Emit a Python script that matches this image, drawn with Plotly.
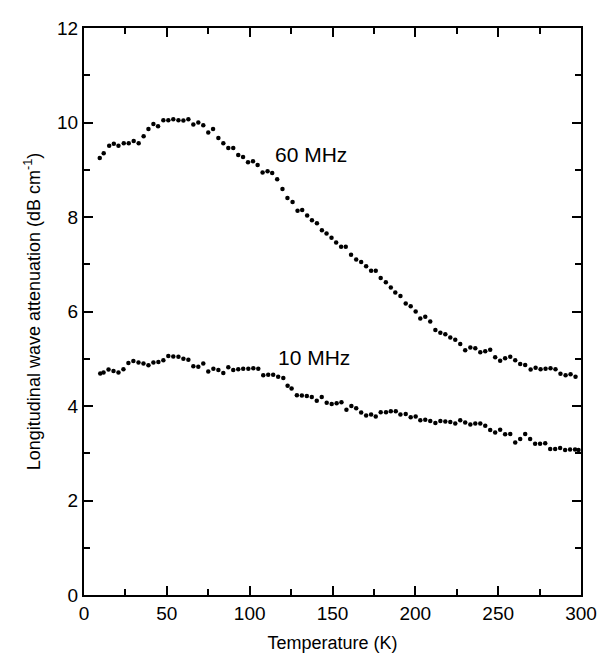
import plotly.graph_objects as go

# 60 MHz series
t60 = [9.5, 11.9, 15.2, 18.0, 20.8, 24.0, 27.0, 30.0, 33.0, 36.0, 38.9, 41.9, 44.7, 47.9,
       50.9, 53.9, 57.0, 60.0, 63.0, 66.0, 69.0, 72.0, 75.0, 77.9, 81.1, 84.1, 87.1, 90.1,
       93.1, 96.0, 99.0, 102.0, 104.8, 107.8, 110.8, 113.6, 116.6, 119.8, 122.8, 125.9,
       128.9, 131.7, 134.7, 137.6, 140.6, 143.6, 146.4, 149.4, 152.2, 155.2, 158.0, 161.2,
       164.3, 167.3, 170.3, 173.3, 176.1, 179.1, 182.2, 185.2, 187.9, 191.0, 194.2, 197.2,
       200.2, 203.0, 206.0, 209.0, 212.1, 215.1, 218.1, 221.1, 224.1, 227.1, 230.1, 233.2,
       236.2, 239.2, 242.2, 245.2, 248.2, 251.2, 254.2, 257.3, 260.3, 263.3, 266.3, 269.6,
       272.6, 275.6, 278.6, 281.6, 284.6, 287.6, 290.7, 293.7, 296.7]
a60 = [9.25, 9.35, 9.51, 9.55, 9.51, 9.56, 9.56, 9.61, 9.56, 9.71, 9.86, 9.97, 9.92, 10.05,
       10.05, 10.07, 10.05, 10.04, 10.07, 9.96, 10.00, 9.94, 9.79, 9.86, 9.67, 9.56, 9.46, 9.46,
       9.31, 9.27, 9.16, 9.18, 9.10, 8.94, 8.97, 8.93, 8.80, 8.59, 8.40, 8.32,
       8.13, 8.15, 8.03, 7.93, 7.87, 7.72, 7.65, 7.56, 7.46, 7.37, 7.37, 7.20,
       7.10, 7.05, 6.96, 6.86, 6.86, 6.71, 6.62, 6.51, 6.40, 6.33, 6.17, 6.11,
       6.00, 5.85, 5.89, 5.79, 5.61, 5.55, 5.52, 5.45, 5.40, 5.31, 5.18, 5.24,
       5.22, 5.14, 5.16, 5.19, 5.03, 4.96, 5.01, 5.04, 4.97, 4.89, 4.87, 4.77,
       4.81, 4.78, 4.79, 4.80, 4.78, 4.68, 4.65, 4.67, 4.62]

# 10 MHz series
t10 = [9.8, 11.8, 14.8, 17.8, 20.8, 23.8, 26.8, 29.8, 32.9, 35.9, 38.9, 41.9, 44.9, 47.9,
       50.9, 53.9, 57.0, 60.0, 63.0, 66.0, 69.0, 72.0, 75.0, 78.1, 81.1, 84.1, 87.1, 90.1,
       93.1, 96.1, 99.2, 102.2, 105.2, 108.2, 111.2, 114.2, 117.2, 120.3, 122.9, 125.3,
       128.5, 131.5, 134.5, 137.5, 140.5, 143.5, 146.5, 149.5, 152.5, 155.4, 158.4, 161.4,
       164.3, 167.3, 170.3, 173.3, 176.1, 179.1, 182.3, 185.2, 188.2, 191.0, 194.2, 197.2,
       200.2, 203.0, 206.0, 209.0, 212.1, 215.1, 218.1, 221.1, 224.1, 227.1, 230.1, 233.2,
       236.2, 239.2, 242.2, 245.2, 248.2, 251.2, 254.2, 257.3, 260.3, 263.3, 266.3, 269.3,
       272.3, 275.3, 278.4, 281.4, 284.4, 287.4, 290.4, 293.4, 296.4, 298.5]
a10 = [4.69, 4.71, 4.77, 4.74, 4.71, 4.78, 4.91, 4.95, 4.92, 4.90, 4.86, 4.92, 4.93, 4.97,
       5.06, 5.05, 5.04, 5.00, 4.98, 4.84, 4.83, 4.90, 4.73, 4.79, 4.76, 4.70, 4.82, 4.76,
       4.78, 4.79, 4.79, 4.80, 4.79, 4.65, 4.66, 4.66, 4.62, 4.59, 4.43, 4.37,
       4.23, 4.22, 4.21, 4.19, 4.11, 4.19, 4.07, 4.04, 4.06, 4.08, 3.92, 4.00,
       3.95, 3.86, 3.80, 3.82, 3.78, 3.87, 3.87, 3.89, 3.89, 3.82, 3.83, 3.76,
       3.78, 3.70, 3.71, 3.68, 3.64, 3.68, 3.67, 3.66, 3.63, 3.70, 3.65, 3.61,
       3.63, 3.63, 3.58, 3.49, 3.44, 3.50, 3.40, 3.41, 3.23, 3.30, 3.41, 3.30,
       3.20, 3.20, 3.21, 3.09, 3.09, 3.11, 3.07, 3.08, 3.08, 3.07]

labels = ["60 MHz", "10 MHz"]
label_pos = [(114.2, 9.32), (116.0, 5.02)]

FONT = "Liberation Sans, Arial, sans-serif"

fig = go.Figure()
for t, a in [(t60, a60), (t10, a10)]:
    fig.add_trace(go.Scatter(x=t, y=a, mode="markers",
                             marker=dict(size=4.5, color="black"),
                             showlegend=False, hoverinfo="skip", cliponaxis=False))

for lab, (lx, ly) in zip(labels, label_pos):
    fig.add_annotation(x=lx, y=ly, text=lab, showarrow=False, xanchor="left",
                       yanchor="middle", font=dict(size=21, color="black", family=FONT))

axis_common = dict(showline=True, linecolor="black", linewidth=2, mirror="ticks",
                   ticks="inside", ticklen=9, tickwidth=2, tickcolor="black",
                   showgrid=False, zeroline=False, automargin=False,
                   tickfont=dict(size=19, color="black", family=FONT))

fig.update_xaxes(range=[0, 300], dtick=50, tick0=0,
                 minor=dict(dtick=25, ticks="inside", ticklen=6, tickwidth=2,
                            tickcolor="black", showgrid=False),
                 title=dict(text="Temperature (K)", standoff=14,
                            font=dict(size=18, color="black", family=FONT)),
                 **axis_common)
fig.update_yaxes(range=[0, 12], dtick=2, tick0=0,
                 minor=dict(dtick=1, ticks="inside", ticklen=6, tickwidth=2,
                            tickcolor="black", showgrid=False),
                 title=dict(text="Longitudinal wave attenuation (dB cm<sup>-1</sup>)",
                            standoff=12, font=dict(size=18, color="black", family=FONT)),
                 **axis_common)

fig.update_layout(width=606, height=657, plot_bgcolor="white", paper_bgcolor="white",
                  margin=dict(l=76, r=33, t=20, b=70),
                  font=dict(family=FONT, color="black"))

fig.write_html("out.html")
